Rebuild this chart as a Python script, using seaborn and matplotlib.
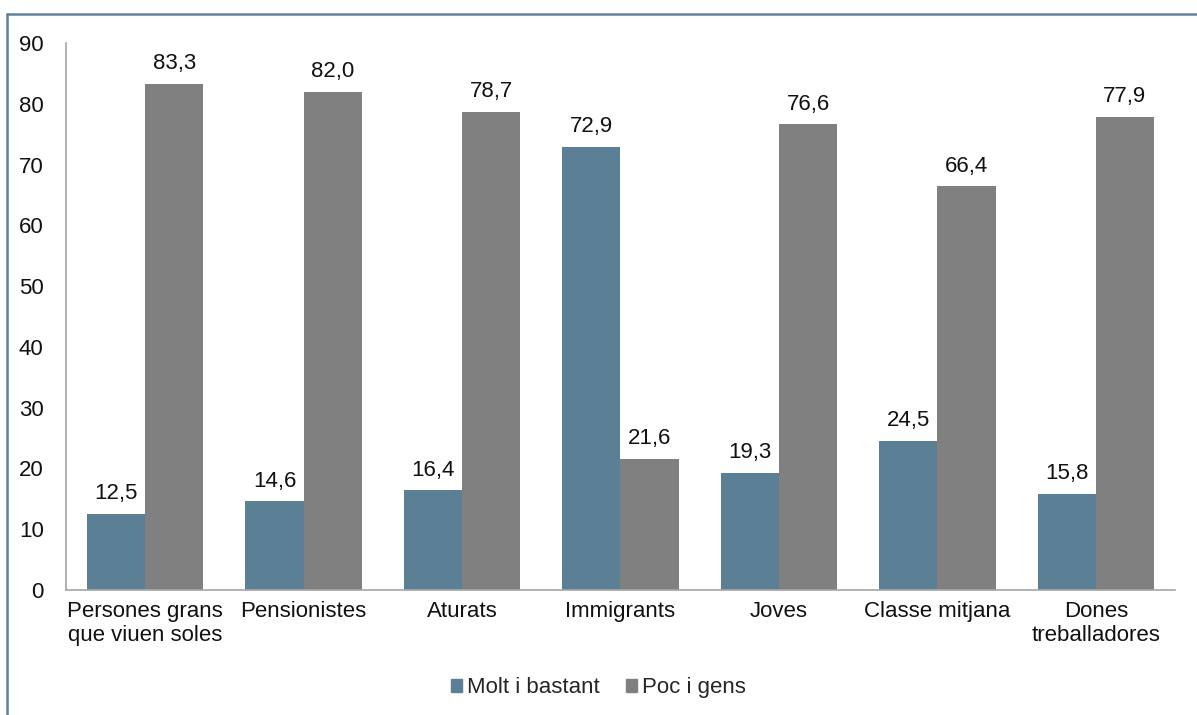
import matplotlib
matplotlib.use("Agg")
import matplotlib.pyplot as plt
import seaborn as sns
import pandas as pd
from matplotlib.lines import Line2D

# Data
categories = ['Persones grans\nque viuen soles', 'Pensionistes', 'Aturats', 'Immigrants',
              'Joves', 'Classe mitjana', 'Dones\ntreballadores']
molt_bastant = [12.5, 14.6, 16.4, 72.9, 19.3, 24.5, 15.8]
poc_gens = [83.3, 82.0, 78.7, 21.6, 76.6, 66.4, 77.9]
series_names = ['Molt i bastant', 'Poc i gens']
y_ticks = [0, 10, 20, 30, 40, 50, 60, 70, 80, 90]

df = pd.DataFrame({
    'Grup': categories * 2,
    'Valor': molt_bastant + poc_gens,
    'Serie': [series_names[0]] * len(categories) + [series_names[1]] * len(categories),
})

sns.set_style("white")
plt.rcParams['font.family'] = ['Liberation Sans', 'DejaVu Sans']

fig = plt.figure(figsize=(11.97, 7.15), dpi=100)
ax = fig.add_axes([0.0551, 0.1748, 0.9265, 0.7651])

palette = {series_names[0]: '#5b7f95', series_names[1]: '#808080'}
sns.barplot(data=df, x='Grup', y='Valor', hue='Serie', palette=palette,
            width=0.735, saturation=1, ax=ax, legend=False, linewidth=0)

fs = 16
for container in ax.containers:
    ax.bar_label(container, fmt=lambda v: f"{v:.1f}".replace('.', ','),
                 padding=7, fontsize=fs, color='#111111')

ax.set_ylim(0, 90)
ax.set_yticks(y_ticks)
ax.set_xlim(-0.5, len(categories) - 0.5)
ax.set_xlabel('')
ax.set_ylabel('')
ax.tick_params(axis='y', length=0, pad=16, labelsize=fs, labelcolor='#111111')
ax.tick_params(axis='x', length=0, pad=8, labelsize=fs, labelcolor='#111111')

for side in ['top', 'right']:
    ax.spines[side].set_visible(False)
for side in ['left', 'bottom']:
    ax.spines[side].set_color('#a6a6a6')
    ax.spines[side].set_linewidth(1.2)

# Legend
handles = [plt.Rectangle((0, 0), 1, 1, color=palette[s]) for s in series_names]
fig.legend(handles, series_names, loc='center', bbox_to_anchor=(0.5, 0.038),
           ncol=2, frameon=False, fontsize=fs, handlelength=0.5, handleheight=0.5,
           handletextpad=0.2, columnspacing=1.2)

# Outer frame (top and left lines)
fig.add_artist(Line2D([7 / 1197, 1.0], [1 - 14 / 715, 1 - 14 / 715],
                      transform=fig.transFigure, color='#5f8296', lw=1.8))
fig.add_artist(Line2D([7 / 1197, 7 / 1197], [0.0, 1 - 14 / 715],
                      transform=fig.transFigure, color='#5f8296', lw=1.8))

fig.savefig('out.png', dpi=100)
plt.close(fig)
